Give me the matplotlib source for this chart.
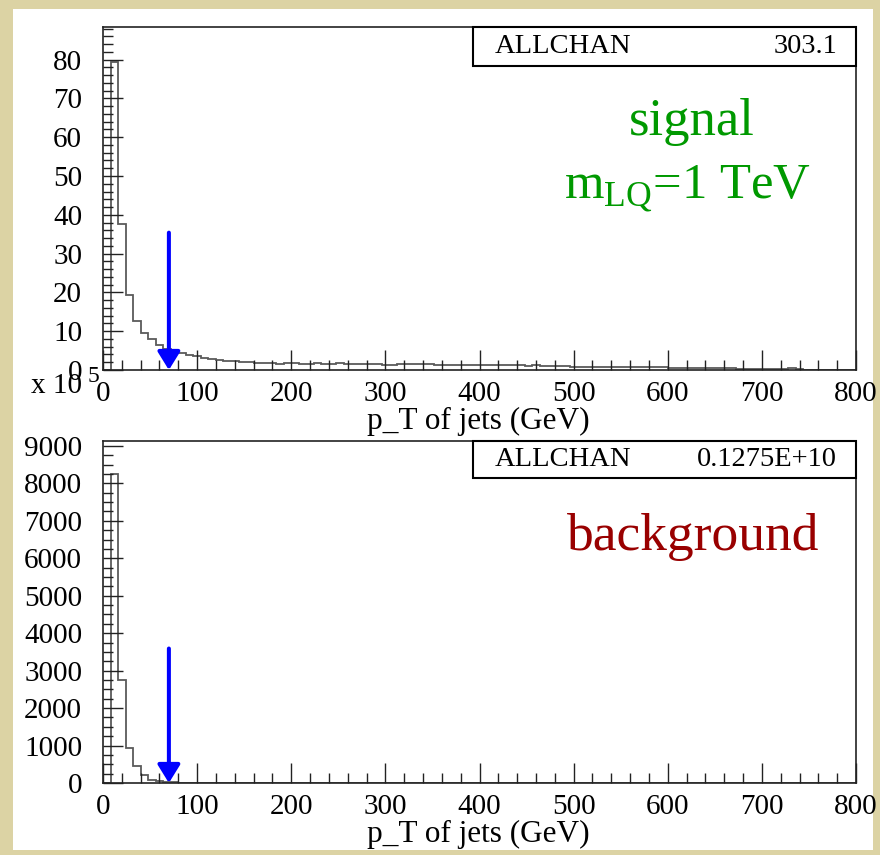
import numpy as np
import matplotlib
matplotlib.use("Agg")
import matplotlib.pyplot as plt
from matplotlib.patches import Rectangle
from matplotlib.ticker import MultipleLocator

plt.rcParams['font.family'] = ['Liberation Serif', 'DejaVu Serif']

# ---- data ----
bin_edges = np.linspace(0, 800, 101)  # 8 GeV bins
signal_vals = [  # units of 1e5
    0.0, 79.4, 37.6, 19.3, 12.6, 9.6, 7.9, 6.4, 5.3, 4.6,
    4.4, 3.8, 3.5, 3.1, 2.9, 2.5, 2.4, 2.3, 2.1, 2.0,
    1.8, 1.7, 1.7, 1.6, 1.7, 1.7, 1.6, 1.6, 1.7, 1.6,
    1.6, 1.7, 1.5, 1.6, 1.6, 1.5, 1.5, 1.4, 1.2, 1.6,
    1.5, 1.5, 1.6, 1.5, 1.4, 1.3, 1.3, 1.3, 1.3, 1.2,
    1.3, 1.2, 1.2, 1.3, 1.2, 1.2, 1.1, 1.2, 1.1, 1.0,
    1.1, 1.0, 0.9, 0.9, 0.9, 0.9, 0.8, 0.8, 0.7, 0.7,
    0.8, 0.7, 0.8, 0.7, 0.8, 0.6, 0.6, 0.6, 0.5, 0.6,
    0.5, 0.5, 0.4, 0.4, 0.3, 0.3, 0.3, 0.2, 0.2, 0.2,
    0.3, 0.4, 0.2, 0.1, 0.1, 0.1, 0.1, 0.0, 0.0, 0.0,
]
background_vals = [
    0, 8250, 2740, 945, 455, 205, 90, 45, 25, 15,
    10, 6, 4, 3, 2, 1, 1, 0, 0, 0,
] + [0] * 80

cut_value = 70          # GeV, arrow position
signal_arrow_top = 35.4
background_arrow_top = 3590
signal_stat = "303.1"
background_stat = "0.1275E+10"
xlabel = "p_T of jets (GeV)"

W, H = 880, 855
fig = plt.figure(figsize=(W / 100, H / 100), dpi=100, facecolor='#dcd3a4')

# white panel (background axes)
bg = fig.add_axes([13 / W, 1 - 850 / H, (873 - 13) / W, (850 - 9) / H], zorder=-10)
bg.set_facecolor('white')
bg.set_xticks([]); bg.set_yticks([])
for s in bg.spines.values():
    s.set_visible(False)

def px(x, y):
    return x / W, 1 - y / H

def setup(ax, ymax, ymajor, yminor):
    ax.set_xlim(0, 800)
    ax.set_ylim(0, ymax)
    ax.xaxis.set_major_locator(MultipleLocator(100))
    ax.xaxis.set_minor_locator(MultipleLocator(20))
    ax.yaxis.set_major_locator(MultipleLocator(ymajor))
    ax.yaxis.set_minor_locator(MultipleLocator(yminor))
    ax.tick_params(which='both', direction='in', top=False, right=False,
                   colors='#222222', labelcolor='black', width=1.0)
    ax.tick_params(which='major', length=14.5)
    ax.tick_params(which='minor', length=7.2)
    ax.tick_params(axis='x', which='major', labelsize=21, pad=8)
    ax.tick_params(axis='y', which='major', labelsize=21, pad=15)
    for s in ax.spines.values():
        s.set_linewidth(1.2)
        s.set_color('#222222')

def statbox(ax, h_frac, val):
    x0 = (473 - 103) / (856 - 103)
    ax.add_patch(Rectangle((x0, 1 - h_frac), 1 - x0, h_frac, transform=ax.transAxes,
                           facecolor='white', edgecolor='black', lw=1.5, zorder=5,
                           clip_on=False))
    ax.text((495 - 103) / 753, 1 - h_frac / 2, "ALLCHAN", transform=ax.transAxes,
            ha='left', va='center', fontsize=20.5, zorder=6)
    ax.text((837 - 103) / 753, 1 - h_frac / 2, val, transform=ax.transAxes,
            ha='right', va='center', fontsize=20.5, zorder=6)

def arrow(ax, top):
    ax.annotate('', xy=(cut_value, 0), xytext=(cut_value, top),
                arrowprops=dict(arrowstyle='-|>,head_length=0.55,head_width=0.34',
                                color='#0000ff', lw=2.9, mutation_scale=20,
                                shrinkA=0, shrinkB=0), zorder=7)

# ---- top panel ----
ax1 = fig.add_axes([103 / W, 1 - 370 / H, (856 - 103) / W, (370 - 27) / H])
ax1.stairs(signal_vals, bin_edges, color='#5a5a5a', lw=1.3)
setup(ax1, 88.4, 10, 2)
statbox(ax1, (66 - 27) / 343, signal_stat)
arrow(ax1, signal_arrow_top)

# ---- bottom panel ----
ax2 = fig.add_axes([103 / W, 1 - 783 / H, (856 - 103) / W, (783 - 441) / H])
ax2.stairs(background_vals, bin_edges, color='#5a5a5a', lw=1.3)
setup(ax2, 9130, 1000, 250)
statbox(ax2, (478 - 441) / 342, background_stat)
arrow(ax2, background_arrow_top)

# axis titles
fig.text(*px(478, 421), xlabel, ha='center', va='center', fontsize=22.5)
fig.text(*px(478, 834), xlabel, ha='center', va='center', fontsize=22.5)

# exponent label
fig.text(*px(82, 386), "x 10", ha='right', va='center', fontsize=21)
fig.text(*px(88, 377), "5", ha='left', va='center', fontsize=17)

# annotations
fig.text(*px(692, 135), "signal", ha='center', va='baseline', fontsize=38, color='#009900')
fig.text(*px(688, 198), r"m$_{\mathregular{LQ}}$=1 TeV", ha='center', va='baseline',
         fontsize=36.5, color='#009900')
fig.text(*px(693, 550), "background", ha='center', va='baseline', fontsize=38.5,
         color='#990000')

fig.savefig("out.png", dpi=100, facecolor=fig.get_facecolor())
